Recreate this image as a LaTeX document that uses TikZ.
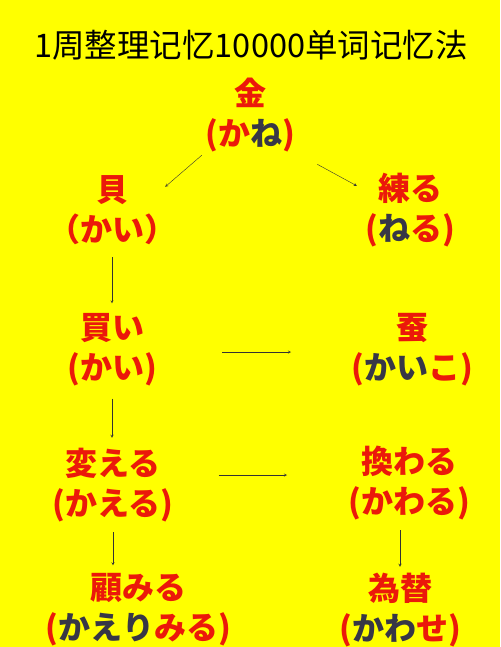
\documentclass[tikz,border=0pt]{standalone}
\usepackage{fontspec}
\newfontfamily\jpfont{Noto Sans CJK JP}
\newfontfamily\zhfont{Noto Sans CJK SC}
\definecolor{wred}{RGB}{235,25,10}
\definecolor{wdark}{RGB}{55,55,70}
\definecolor{bgyellow}{RGB}{255,255,0}
\newcommand{\dk}[1]{\textcolor{wdark}{#1}}
\tikzstyle{word}=[text=wred,font=\jpfont\bfseries\fontsize{32}{40}\selectfont,align=center,inner sep=0pt,minimum width=90pt,minimum height=70pt]
\tikzstyle{arr}=[->,>=stealth,thin,black!80]
\begin{document}
\begin{tikzpicture}[x=1pt,y=-1pt]
\fill[bgyellow] (0,0) rectangle (500,647);
\useasboundingbox (0,0) rectangle (500,647);
\draw (251,45) node(title)[font=\zhfont\fontsize{32.5}{38}\selectfont]{1周整理记忆10000单词记忆法};
\draw (250,115) node(kane)[word]{金\\(か\dk{ね})};
\draw (112,210) node(kai)[word]{貝\\（かい）};
\draw (410,210) node(neru)[word]{練る\\(\dk{ね}る)};
\draw (112,350) node(kaib)[word]{買い\\(かい)};
\draw (412,350) node(kaiko)[word]{蚕\\(\dk{かい}こ)};
\draw (113,485) node(kaeru)[word]{変える\\(かえる)};
\draw (409,483) node(kawaru)[word]{換わる\\(かわる)};
\draw (138,610) node(kaerimiru)[word]{顧みる\\(\dk{かえり}みる)};
\draw (400,610) node(kawase)[word]{為替\\(\dk{かわ}せ)};
\draw[arr] ([shift={(-3,3)}]kane.south west) -- ([shift={(-11,12)}]kai.north east);
\draw[arr] ([shift={(22,12)}]kane.south east) -- ([shift={(-8,13)}]neru.north west);
\draw[arr,shorten <=12pt,shorten >=10pt] (kai) -- (kaib);
\draw[arr,shorten <=12pt,shorten >=10pt] (kaib) -- (kaib |- kaeru.north);
\draw[arr,shorten <=65pt,shorten >=60pt] ([yshift=-2pt]kaib.east) -- ([yshift=-2pt]kaiko.west);
\draw[arr,shorten <=45pt,shorten >=61pt] ([yshift=10pt]kaeru.east) -- ([yshift=8pt]kawaru.west);
\draw[arr,shorten <=10pt,shorten >=8pt] (kaeru.south) -- (kaeru |- kaerimiru.north);
\draw[arr,shorten <=10pt,shorten >=6pt] (kawase |- kawaru.south) -- (kawase.north);
\end{tikzpicture}
\end{document}
